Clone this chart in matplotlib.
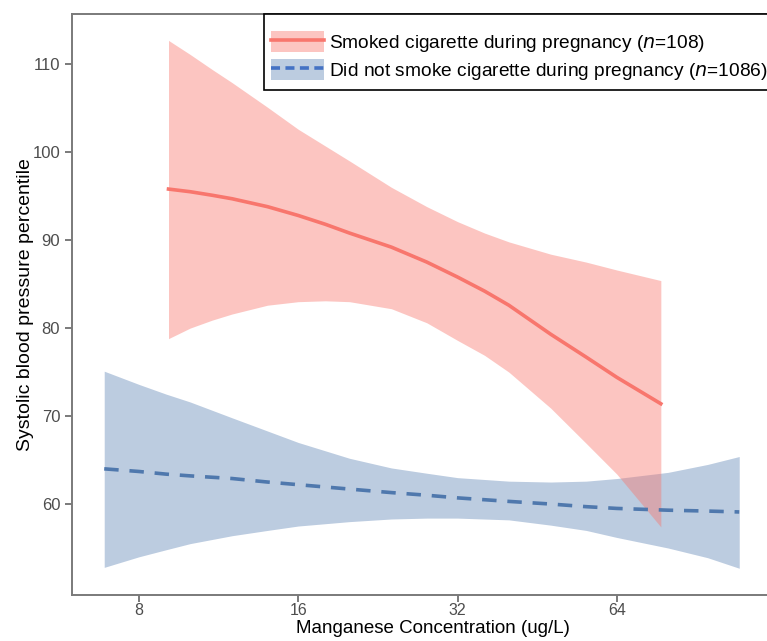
import numpy as np
import matplotlib.pyplot as plt
from matplotlib.patches import Patch
from matplotlib.lines import Line2D

plt.rcParams['font.family'] = ['Liberation Sans', 'DejaVu Sans']

# Smokers, x in ug/L
smk_x = [9.1, 10, 11, 12, 14, 16, 18, 20, 24, 28, 32, 36, 40, 48, 56, 64, 77.5]
smk_fit = [95.8, 95.5, 95.1, 94.7, 93.8, 92.8, 91.8, 90.8, 89.2, 87.5, 85.8, 84.2, 82.6, 79.3, 76.7, 74.4, 71.4]
smk_hi = [112.7, 111.1, 109.4, 107.9, 105.1, 102.6, 100.7, 99.0, 96.0, 93.8, 92.1, 90.8, 89.8, 88.4, 87.5, 86.6, 85.4]
smk_lo = [78.8, 80.0, 80.9, 81.6, 82.6, 83.0, 83.1, 83.0, 82.2, 80.6, 78.6, 76.9, 75.0, 70.9, 66.9, 63.4, 57.4]

# Non-smokers
non_x = [6.88, 8, 9, 10, 12, 14, 16, 20, 24, 28, 32, 40, 48, 56, 64, 80, 95, 109]
non_fit = [64.0, 63.7, 63.4, 63.2, 62.9, 62.5, 62.2, 61.7, 61.3, 61.0, 60.7, 60.3, 60.0, 59.7, 59.5, 59.3, 59.2, 59.1]
non_hi = [75.1, 73.6, 72.5, 71.6, 69.8, 68.3, 67.0, 65.2, 64.1, 63.5, 63.0, 62.6, 62.5, 62.6, 62.9, 63.6, 64.5, 65.4]
non_lo = [52.8, 54.0, 54.8, 55.5, 56.4, 57.0, 57.5, 58.0, 58.3, 58.4, 58.4, 58.2, 57.6, 57.0, 56.2, 55.0, 53.9, 52.7]

x_ticks = [8, 16, 32, 64]
y_ticks = [60, 70, 80, 90, 100, 110]

red = '#f8766d'
blue = '#4f78ad'

fig = plt.figure(figsize=(7.67, 6.41), dpi=100)
ax = fig.add_axes([72 / 767, 46 / 641, 1 - 72 / 767, 581 / 641])

ax.fill_between(non_x, non_lo, non_hi, color='#4672aa', alpha=0.36, lw=0)
ax.plot(non_x, non_fit, color=blue, lw=2.6, ls=(0, (4, 3)))
ax.fill_between(smk_x, smk_lo, smk_hi, color=red, alpha=0.42, lw=0)
ax.plot(smk_x, smk_fit, color=red, lw=2.6)

ax.set_xscale('log', base=2)
ax.set_xlim(5.98, 123)
ax.set_ylim(49.66, 115.7)
ax.set_xticks(x_ticks)
ax.set_xticklabels([str(t) for t in x_ticks])
ax.xaxis.set_minor_locator(plt.NullLocator())
ax.set_yticks(y_ticks)

for s in ['left', 'bottom', 'top']:
    ax.spines[s].set_color('#7a7a7a')
    ax.spines[s].set_linewidth(1.4)
ax.spines['right'].set_visible(False)
ax.tick_params(colors='#7a7a7a', labelcolor='#4d4d4d', labelsize=12,
               length=5, width=1.4)
ax.tick_params(axis='x', labelsize=11.5, pad=1)

ax.set_xlabel('Manganese Concentration (ug/L)', fontsize=13.5)
ax.xaxis.set_label_coords(0.519, -0.043)
ax.set_ylabel('Systolic blood pressure percentile', fontsize=14, labelpad=-1)

h1 = (Patch(facecolor=red, alpha=0.42, lw=0), Line2D([], [], color=red, lw=2.6))
h2 = (Patch(facecolor='#4672aa', alpha=0.36, lw=0),
      Line2D([], [], color='#4472c4', lw=2.6, ls=(0, (2.5, 1.5))))
leg = ax.legend([h1, h2],
                ['Smoked cigarette during pregnancy ($n$=108)',
                 'Did not smoke cigarette during pregnancy ($n$=1086)'],
                loc='upper right', bbox_to_anchor=(1.012, 1.0), fontsize=13.8,
                title=' ', title_fontsize=4,
                frameon=True, fancybox=False, framealpha=1, edgecolor='black',
                handlelength=2.75, handleheight=1.3, handletextpad=0.25,
                borderpad=0.4, labelspacing=0.25, borderaxespad=0)
leg.get_frame().set_linewidth(1.2)

fig.savefig('out.png', dpi=100)
